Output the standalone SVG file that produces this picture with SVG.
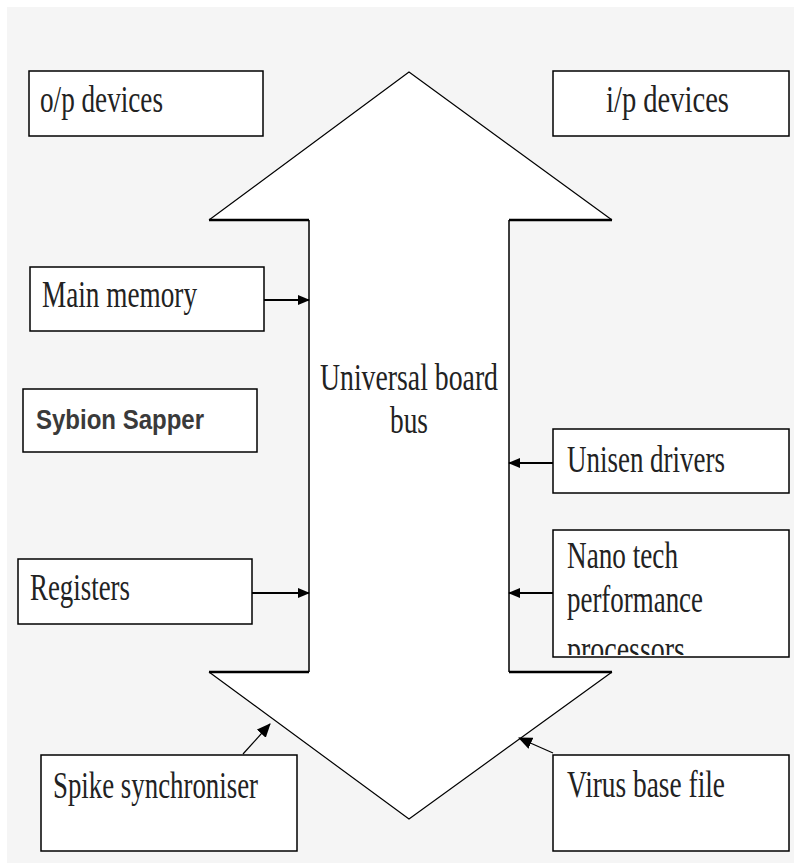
<svg xmlns="http://www.w3.org/2000/svg" width="794" height="863" viewBox="0 0 794 863">
<style>
.box{fill:#fff;stroke:#000;stroke-width:1.5}
.t{font-family:"Liberation Serif","Times New Roman",serif;font-size:37px;fill:#222}
.s{font-family:"Liberation Sans",Arial,sans-serif;font-size:28px;font-weight:bold;fill:#3a3a3a}
.c{stroke:#000;stroke-width:2;fill:none}
.cthin{stroke:#000;stroke-width:1.2;fill:none}
</style>
<defs>
<marker id="ah" markerWidth="12" markerHeight="12" refX="11" refY="6" orient="auto" markerUnits="userSpaceOnUse">
<path d="M0,1 L12,6 L0,11 Z" fill="#000"/>
</marker>
<marker id="ah2" markerWidth="14" markerHeight="14" refX="13" refY="7" orient="auto" markerUnits="userSpaceOnUse">
<path d="M0,1 L14,7 L0,13 Z" fill="#000"/>
</marker>
<clipPath id="nanoclip"><rect x="553" y="530" width="236" height="125"/></clipPath>
</defs>
<rect x="0" y="0" width="794" height="863" fill="#fff"/>
<rect x="7" y="7" width="787" height="856" fill="#f5f5f5"/>

<g id="bus">
<polygon points="409,72 612,220 509,220 509,672 612,672 409,819 209,672 309,672 309,220 209,220" fill="#fff"/>
<path d="M209,220 L409,72 L612,220 M612,672 L409,819 L209,672" stroke="#000" stroke-width="1.2" fill="none"/>
<path d="M209,220 H309 M509,220 H612 M209,672 H309 M509,672 H612" stroke="#000" stroke-width="2.5" fill="none"/>
<path d="M309,220 V672 M509,220 V672" stroke="#000" stroke-width="1.5" fill="none"/>
<text class="t" x="409" y="390" text-anchor="middle" textLength="178" lengthAdjust="spacingAndGlyphs">Universal board</text>
<text class="t" x="409" y="433" text-anchor="middle" textLength="38" lengthAdjust="spacingAndGlyphs">bus</text>
</g>

<g id="op-devices">
<rect class="box" x="29" y="71" width="234" height="65"/>
<text class="t" x="40" y="112" textLength="123" lengthAdjust="spacingAndGlyphs">o/p devices</text>
</g>
<g id="ip-devices">
<rect class="box" x="553" y="71" width="236" height="65"/>
<text class="t" x="606" y="112" textLength="123" lengthAdjust="spacingAndGlyphs">i/p devices</text>
</g>
<g id="main-memory">
<rect class="box" x="30" y="267" width="234" height="64"/>
<text class="t" x="42" y="307" textLength="155" lengthAdjust="spacingAndGlyphs">Main memory</text>
</g>
<g id="sybion-sapper">
<rect class="box" x="23" y="389" width="234" height="63"/>
<text class="s" x="36" y="429" textLength="168" lengthAdjust="spacingAndGlyphs">Sybion Sapper</text>
</g>
<g id="unisen-drivers">
<rect class="box" x="553" y="429" width="236" height="64"/>
<text class="t" x="567" y="472" textLength="158" lengthAdjust="spacingAndGlyphs">Unisen drivers</text>
</g>
<g id="registers">
<rect class="box" x="18" y="559" width="234" height="65"/>
<text class="t" x="30" y="600" textLength="100" lengthAdjust="spacingAndGlyphs">Registers</text>
</g>
<g id="nano-tech">
<rect class="box" x="553" y="530" width="236" height="127"/>
<g clip-path="url(#nanoclip)">
<text class="t" x="567" y="568" textLength="111" lengthAdjust="spacingAndGlyphs">Nano tech</text>
<text class="t" x="567" y="612" textLength="136" lengthAdjust="spacingAndGlyphs">performance</text>
<text class="t" x="567" y="662" textLength="118" lengthAdjust="spacingAndGlyphs">processors</text>
</g>
</g>
<g id="spike-synchroniser">
<rect class="box" x="41" y="755" width="256" height="96"/>
<text class="t" x="53" y="798" textLength="205" lengthAdjust="spacingAndGlyphs">Spike synchroniser</text>
</g>
<g id="virus-base-file">
<rect class="box" x="553" y="755" width="236" height="96"/>
<text class="t" x="567" y="797" textLength="158" lengthAdjust="spacingAndGlyphs">Virus base file</text>
</g>

<g id="connectors">
<line class="c" x1="264" y1="300" x2="309" y2="300" marker-end="url(#ah)"/>
<line class="c" x1="553" y1="463" x2="509" y2="463" marker-end="url(#ah)"/>
<line class="c" x1="252" y1="593" x2="309" y2="593" marker-end="url(#ah)"/>
<line class="c" x1="553" y1="593" x2="509" y2="593" marker-end="url(#ah)"/>
<line class="cthin" x1="243" y1="754" x2="270" y2="724" marker-end="url(#ah2)"/>
<line class="cthin" x1="553" y1="753" x2="519" y2="738" marker-end="url(#ah2)"/>
</g>
</svg>
